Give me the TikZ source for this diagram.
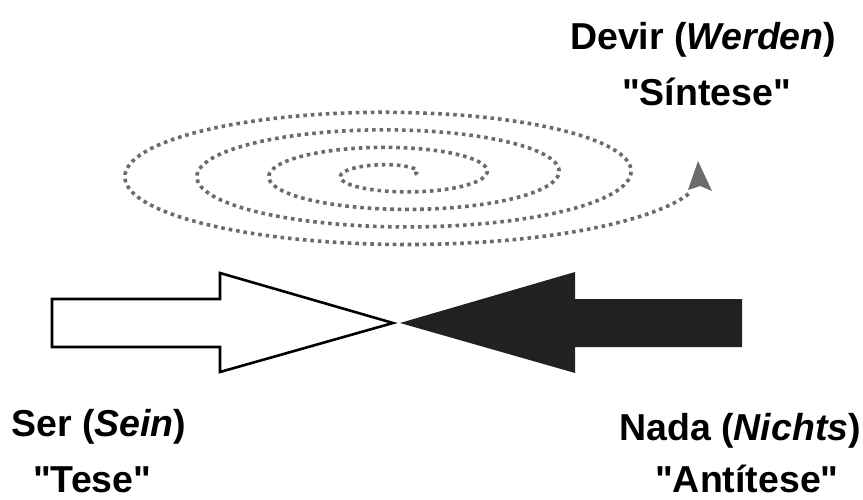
\documentclass[tikz,border=0pt]{standalone}
\usepackage{fontspec}
\setmainfont{Liberation Sans}[Ligatures=TeXOff]
\begin{document}
\begin{tikzpicture}[x=1pt,y=-1pt,
    word/.style={font=\fontsize{37.5}{40}\selectfont\bfseries,inner sep=0pt,
      anchor=base west},
    spiral/.style={draw=black!58,line width=3.6pt,
      dash pattern=on 3.6pt off 3.9pt}]

    \useasboundingbox (0,0) rectangle (863,500);

    % the texts
    \node[word] (devir) at (570,50) {Devir (\textit{Werden})};
    \node[word] (sintese) at (622,106) {"Síntese"};
    \node[word] (ser) at (11,436) {Ser (\textit{Sein})};
    \node[word] (tese) at (33,492) {"Tese"};
    \node[word] (nada) at (619,440) {Nada (\textit{Nichts})};
    \node[word] (antitese) at (655,492) {"Antítese"};

    % the spiral
    \draw[spiral] plot[domain=0:1426,samples=500,variable=\t]
      ({396+4.1*(4.5+2.8*rad(\t))*cos(\t)},{174-(4.5+2.8*rad(\t))*sin(\t)});
    \fill[black!58] (698,161) -- (712,191) -- (700,186) -- (688,190) -- cycle;

    % the two arrows
    \coordinate (meet) at (396,323);
    \draw[line width=2.6pt,fill=white,line join=miter]
      (52,299) -- (220,299) -- (220,273) -- ([xshift=-3pt]meet)
      -- (220,372) -- (220,347) -- (52,347) -- cycle;
    \fill[black!87] ([xshift=4pt]meet) -- (575,272) -- (575,299) -- (742,299)
      -- (742,347) -- (575,347) -- (575,373) -- cycle;

\end{tikzpicture}
\end{document}
